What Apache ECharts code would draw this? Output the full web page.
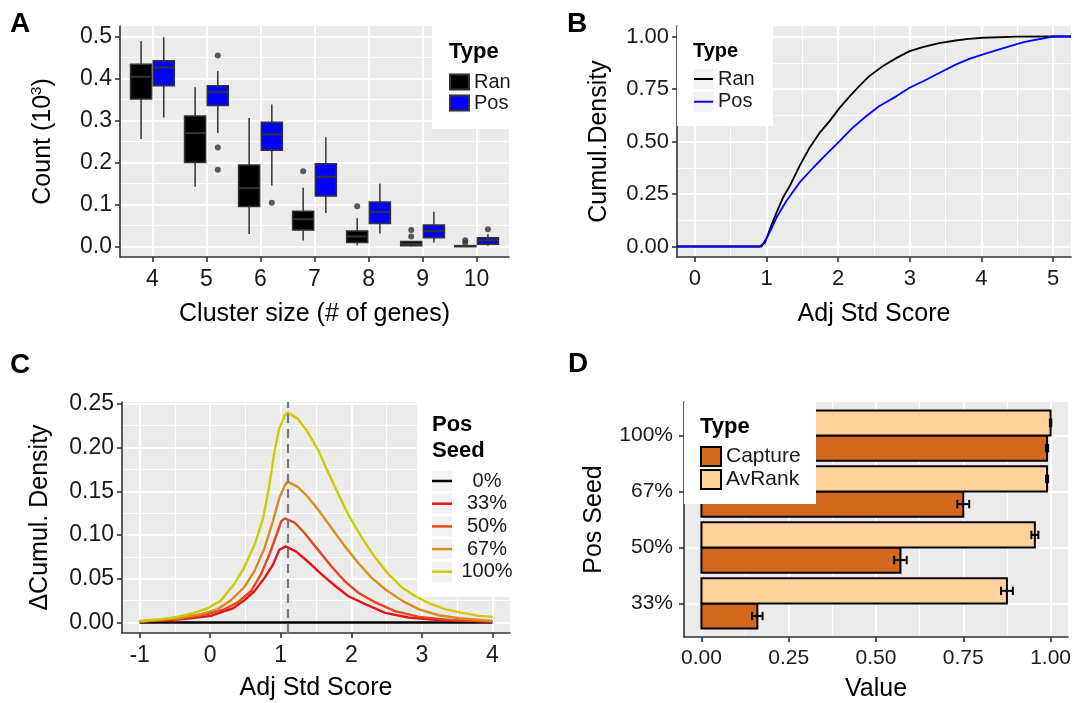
<!DOCTYPE html>
<html>
<head>
<meta charset="utf-8">
<title>Cluster size, cumulative density and capture panels</title>
<script src="https://cdn.jsdelivr.net/npm/echarts@6/dist/echarts.min.js"></script>
<style>
  html, body { margin: 0; padding: 0; background: #fff; }
  #chart { width: 1074px; height: 703px; }
</style>
</head>
<body>
<div id="chart"></div>
<script>
// ---- Panel A: box stats per cluster size [low whisker, Q1, median, Q3, high whisker] (x 10^3)
const clusterSizes = [4, 5, 6, 7, 8, 9, 10]
const ranStats = [
  [0.256, 0.351, 0.404, 0.434, 0.489],
  [0.142, 0.200, 0.270, 0.311, 0.379],
  [0.030, 0.095, 0.139, 0.194, 0.306],
  [0.014, 0.039, 0.065, 0.084, 0.140],
  [0.003, 0.0095, 0.024, 0.037, 0.067],
  [0.000, 0.0015, 0.006, 0.012, 0.013],
  [0.000, 0.000, 0.001, 0.002, 0.003]
]
const posStats = [
  [0.307, 0.383, 0.426, 0.442, 0.498],
  [0.270, 0.336, 0.368, 0.383, 0.418],
  [0.145, 0.229, 0.267, 0.296, 0.338],
  [0.080, 0.120, 0.166, 0.197, 0.260],
  [0.031, 0.055, 0.082, 0.106, 0.150],
  [0.0095, 0.021, 0.037, 0.051, 0.083],
  [0.0015, 0.0055, 0.015, 0.021, 0.029]
]
const ranOutliers = [[7, 0.179], [8, 0.096], [9, 0.039], [9, 0.024], [10, 0.015], [10, 0.009]]
const posOutliers = [[5, 0.455], [5, 0.236], [5, 0.183], [6, 0.104], [10, 0.041]]

// ---- Panel B: cumulative density vs adj std score [score, density]
const ranEcdf = [
  [-0.25, 0], [0.907, 0], [0.98, 0.019], [1.046, 0.082], [1.139, 0.161], [1.23, 0.233],
  [1.324, 0.288], [1.46, 0.383], [1.60, 0.47], [1.74, 0.541], [1.88, 0.597], [2.02, 0.66],
  [2.16, 0.715], [2.29, 0.763], [2.43, 0.81], [2.62, 0.858], [2.81, 0.897], [2.99, 0.929],
  [3.18, 0.949], [3.41, 0.968], [3.64, 0.981], [3.82, 0.989], [4.02, 0.994], [4.5, 0.999],
  [5.0, 1], [5.25, 1]
]
const posEcdf = [
  [-0.25, 0], [0.93, 0], [1.02, 0.051], [1.139, 0.138], [1.277, 0.217], [1.46, 0.304],
  [1.65, 0.375], [1.83, 0.438], [2.02, 0.502], [2.20, 0.565], [2.39, 0.62], [2.57, 0.668],
  [2.81, 0.715], [2.99, 0.755], [3.18, 0.786], [3.41, 0.826], [3.64, 0.866], [3.82, 0.892],
  [4.0, 0.912], [4.26, 0.94], [4.59, 0.973], [5.0, 1], [5.25, 1]
]

// ---- Panel C: delta cumulative density per pos seed [score, delta]
const seedNames = ['0%', '33%', '50%', '67%', '100%']
const seed0 = [[-1, 0], [4, 0]]
const seed33 = [
  [-1, 0.0008], [-0.37, 0.0038], [0.01, 0.0076], [0.20, 0.013], [0.32, 0.016], [0.48, 0.025],
  [0.63, 0.036], [0.77, 0.051], [0.89, 0.066], [0.98, 0.083], [1.07, 0.087], [1.22, 0.081],
  [1.38, 0.070], [1.58, 0.055], [1.77, 0.042], [1.96, 0.030], [2.20, 0.021], [2.48, 0.011],
  [2.81, 0.0057], [3.24, 0.0027], [4, 0.0011]
]
const seed50 = [
  [-1, 0.0011], [-0.37, 0.0049], [-0.04, 0.0095], [0.20, 0.015], [0.39, 0.023], [0.58, 0.036],
  [0.72, 0.055], [0.84, 0.078], [0.94, 0.100], [1.01, 0.116], [1.06, 0.119], [1.20, 0.114],
  [1.34, 0.102], [1.53, 0.083], [1.72, 0.064], [1.91, 0.047], [2.10, 0.034], [2.34, 0.023],
  [2.62, 0.013], [2.96, 0.0064], [3.43, 0.0027], [4, 0.0011]
]
const seed67 = [
  [-1, 0.0011], [-0.47, 0.0049], [-0.13, 0.0095], [0.10, 0.015], [0.29, 0.025], [0.48, 0.040],
  [0.63, 0.059], [0.77, 0.085], [0.89, 0.116], [0.98, 0.142], [1.06, 0.157], [1.10, 0.161],
  [1.24, 0.155], [1.38, 0.144], [1.53, 0.129], [1.72, 0.108], [1.91, 0.087], [2.10, 0.068],
  [2.29, 0.051], [2.48, 0.038], [2.72, 0.025], [2.96, 0.015], [3.24, 0.0083], [3.53, 0.0049],
  [4, 0.0019]
]
const seed100 = [
  [-1, 0.0019], [-0.70, 0.0038], [-0.47, 0.0064], [-0.23, 0.011], [-0.04, 0.016], [0.15, 0.025],
  [0.34, 0.044], [0.48, 0.0625], [0.63, 0.089], [0.75, 0.119], [0.84, 0.157], [0.91, 0.195],
  [0.98, 0.222], [1.06, 0.237], [1.10, 0.240], [1.24, 0.233], [1.38, 0.218], [1.53, 0.197],
  [1.67, 0.172], [1.81, 0.148], [1.96, 0.123], [2.15, 0.097], [2.34, 0.074], [2.53, 0.055],
  [2.72, 0.040], [2.91, 0.030], [3.10, 0.022], [3.34, 0.015], [3.58, 0.011], [3.81, 0.0076],
  [4, 0.0064]
]
const peakScore = 1.1

// ---- Panel D: capture / average rank per pos seed, with error
const seedLevels = ['33%', '50%', '67%', '100%']
const captureVals = [0.16, 0.57, 0.75, 0.99]
const captureErr = [0.015, 0.018, 0.017, 0.003]
const avRankVals = [0.875, 0.955, 0.99, 1.0]
const avRankErr = [0.017, 0.01, 0.003, 0.002]

// ---- layout / style
const font = 'Liberation Sans, Arial, Helvetica, sans-serif'
const textColor = '#1a1a1a'
const lineColor = '#333'
const keyBg = '#F2F2F2'
const gridA = { left: 120, top: 26, width: 389, height: 231 }
const gridB = { left: 677, top: 26, width: 394, height: 231 }
const gridC = { left: 122, top: 402, width: 388, height: 231 }
const gridD = { left: 684, top: 402, width: 386, height: 236 }

const range = (a, b, step) => {
  const out = []
  for (let v = a; v <= b + 1e-9; v += step) out.push(+v.toFixed(4))
  return out
}

function tickLabels(ticks, size, margin, formatter) {
  return { customValues: ticks, fontSize: size, color: textColor, margin, fontFamily: font, formatter }
}

function majorAxis(gridIndex, min, max, ticks, extra) {
  return Object.assign({
    type: 'value', gridIndex, min, max,
    axisLine: { show: true, onZero: false, lineStyle: { color: lineColor, width: 1.6 } },
    axisTick: { show: true, length: 5, customValues: ticks, lineStyle: { color: lineColor, width: 1.6 } },
    splitLine: { show: true, lineStyle: { color: '#fff', width: 2 } },
    nameLocation: 'middle',
    nameTextStyle: { fontSize: 25, color: '#000', fontFamily: font }
  }, extra)
}

function minorAxis(gridIndex, min, max, ticks, position) {
  return {
    type: 'value', gridIndex, min, max, position,
    axisLine: { show: false },
    axisTick: { show: false, customValues: ticks },
    axisLabel: { show: false, customValues: ticks },
    splitLine: { show: true, lineStyle: { color: '#fff', width: 1 } }
  }
}

const dodge = 0.21
const boxW = 0.39
function renderBox(params, api) {
  const x = api.value(0)
  const p = [1, 2, 3, 4, 5].map(i => api.coord([x, api.value(i)]))
  const w = api.size([boxW, 0])[0]
  const stroke = { stroke: lineColor, lineWidth: 1.5 }
  return {
    type: 'group',
    children: [
      { type: 'line', shape: { x1: p[0][0], y1: p[0][1], x2: p[1][0], y2: p[1][1] }, style: stroke },
      { type: 'line', shape: { x1: p[3][0], y1: p[3][1], x2: p[4][0], y2: p[4][1] }, style: stroke },
      { type: 'rect', shape: { x: p[3][0] - w / 2, y: p[3][1], width: w, height: Math.max(p[1][1] - p[3][1], 1) },
        style: { fill: api.visual('color'), stroke: lineColor, lineWidth: 1.5 } },
      { type: 'line', shape: { x1: p[2][0] - w / 2, y1: p[2][1], x2: p[2][0] + w / 2, y2: p[2][1] },
        style: { stroke: lineColor, lineWidth: 2 } }
    ]
  }
}

const barH = 0.45
const capH = 0.075
function barRenderer(offset) {
  return (params, api) => {
    const v = api.value(0)
    const y = api.value(1) + offset
    const e = api.value(2)
    const a = api.coord([0, y + barH / 2])
    const b = api.coord([v, y - barH / 2])
    const lo = api.coord([v - e, y])
    const hi = api.coord([v + e, y])
    const capT = api.coord([v, y + capH])[1]
    const capB = api.coord([v, y - capH])[1]
    const es = { stroke: '#000', lineWidth: 2 }
    return {
      type: 'group',
      children: [
        { type: 'rect', shape: { x: a[0], y: a[1], width: b[0] - a[0], height: b[1] - a[1] },
          style: { fill: api.visual('color'), stroke: '#000', lineWidth: 2 } },
        { type: 'line', shape: { x1: lo[0], y1: lo[1], x2: hi[0], y2: hi[1] }, style: es },
        { type: 'line', shape: { x1: lo[0], y1: capT, x2: lo[0], y2: capB }, style: es },
        { type: 'line', shape: { x1: hi[0], y1: capT, x2: hi[0], y2: capB }, style: es }
      ]
    }
  }
}

const seedColors = ['#000000', '#E3141A', '#E2481C', '#D98C1F', '#CCCC00']
const seedData = [seed0, seed33, seed50, seed67, seed100]

const chart = echarts.init(document.getElementById('chart'))

const legendText = { fontSize: 20, color: textColor, fontFamily: font }

// light grey squares behind the legend keys, ggplot style
function keySquares(left, firstCenter, step, count, size) {
  const out = []
  for (let i = 0; i < count; i++) {
    out.push({ type: 'rect', left, top: firstCenter + i * step - size / 2, z: 3.5,
      shape: { width: size, height: size }, style: { fill: keyBg } })
  }
  return out
}

const option = {
  animation: false,
  textStyle: { fontFamily: font },
  grid: [gridA, gridB, gridC, gridD].map(g => Object.assign({
    show: true, backgroundColor: '#EBEBEB', borderWidth: 0
  }, g)),
  xAxis: [
    majorAxis(0, 3.4, 10.6, clusterSizes, {
      name: 'Cluster size (# of genes)', nameGap: 45,
      axisLabel: tickLabels(clusterSizes, 23, 11)
    }),
    majorAxis(1, -0.25, 5.25, range(0, 5, 1), {
      name: 'Adj Std Score', nameGap: 45,
      axisLabel: tickLabels(range(0, 5, 1), 22, 11)
    }),
    minorAxis(1, -0.25, 5.25, range(0.5, 4.5, 1), 'top'),
    majorAxis(2, -1.25, 4.25, range(-1, 4, 1), {
      name: 'Adj Std Score', nameGap: 43,
      axisLabel: tickLabels(range(-1, 4, 1), 23, 11)
    }),
    minorAxis(2, -1.25, 4.25, range(-0.5, 3.5, 1), 'top'),
    majorAxis(3, -0.05, 1.05, range(0, 1, 0.25), {
      name: 'Value', nameGap: 40,
      axisLabel: tickLabels(range(0, 1, 0.25), 21, 11, v => v.toFixed(2))
    }),
    minorAxis(3, -0.05, 1.05, range(0.125, 0.875, 0.25), 'top')
  ],
  yAxis: [
    majorAxis(0, -0.025, 0.525, range(0, 0.5, 0.1), {
      name: 'Count (10{sup|3})', nameGap: 62,
      nameTextStyle: { fontSize: 25, color: '#000', fontFamily: font,
        rich: { sup: { fontSize: 15, padding: [0, 0, 14, 0], color: '#000', fontFamily: font } } },
      axisLabel: tickLabels(range(0, 0.5, 0.1), 23, 8, v => v.toFixed(1))
    }),
    minorAxis(0, -0.025, 0.525, range(0.05, 0.45, 0.1), 'right'),
    majorAxis(1, -0.05, 1.05, range(0, 1, 0.25), {
      name: 'Cumul.Density', nameGap: 65,
      axisLabel: tickLabels(range(0, 1, 0.25), 22, 8, v => v.toFixed(2))
    }),
    minorAxis(1, -0.05, 1.05, range(0.125, 0.875, 0.25), 'right'),
    majorAxis(2, -0.012, 0.252, range(0, 0.25, 0.05), {
      name: 'ΔCumul. Density', nameGap: 69,
      axisLabel: tickLabels(range(0, 0.25, 0.05), 23, 8, v => v.toFixed(2))
    }),
    minorAxis(2, -0.012, 0.252, range(0.025, 0.225, 0.05), 'right'),
    majorAxis(3, 0.4, 4.6, [1, 2, 3, 4], {
      name: 'Pos Seed', nameGap: 77,
      axisLabel: tickLabels([1, 2, 3, 4], 21, 11, v => seedLevels[Math.round(v) - 1])
    })
  ],
  legend: [
    {
      data: ['Ran', 'Pos'], left: 449, top: 72, orient: 'vertical', padding: 0,
      itemWidth: 19, itemHeight: 15, itemGap: 1, icon: 'rect', textStyle: legendText, selectedMode: false
    },
    {
      data: ['Ran (B)', 'Pos (B)'], left: 694, top: 69, orient: 'vertical', padding: 0,
      itemWidth: 19, itemHeight: 2, itemGap: 2.7, icon: 'rect', textStyle: legendText, selectedMode: false,
      formatter: name => name.replace(' (B)', '')
    },
    {
      data: seedNames, left: 432, top: 471, orient: 'vertical', padding: 0,
      itemWidth: 20, itemHeight: 2.5, itemGap: 2.7, icon: 'rect', selectedMode: false,
      formatter: name => `{v|${name}}`,
      textStyle: Object.assign({ rich: { v: { width: 60, align: 'center', fontSize: 20, color: textColor, fontFamily: font } } }, legendText)
    },
    {
      data: ['Capture', 'AvRank'], left: 700, top: 446, orient: 'vertical', padding: 0,
      itemWidth: 20, itemHeight: 19, itemGap: 2, icon: 'rect', textStyle: Object.assign({}, legendText, { fontSize: 21 }),
      selectedMode: false
    }
  ],
  graphic: {
    elements: [
      { type: 'rect', left: 432, top: gridA.top, z: 3, shape: { width: gridA.left + gridA.width - 432, height: 103 }, style: { fill: '#fff' } },
      { type: 'rect', left: gridB.left, top: gridB.top, z: 3, shape: { width: 96, height: 100 }, style: { fill: '#fff' } },
      { type: 'rect', left: 417, top: gridC.top, z: 3, shape: { width: gridC.left + gridC.width - 417, height: 195 }, style: { fill: '#fff' } },
      { type: 'rect', left: gridD.left, top: gridD.top, z: 3, shape: { width: 132, height: 102 }, style: { fill: '#fff' } },
      ...keySquares(449, 82, 21, 2, 19),
      ...keySquares(693.5, 79, 22.7, 2, 20),
      ...keySquares(432, 481, 22.7, 5, 20),
      { type: 'text', left: 449, top: 41, z: 5, style: { text: 'Type', font: 'bold 22px ' + font, fill: '#000' } },
      { type: 'text', left: 693, top: 41, z: 5, style: { text: 'Type', font: 'bold 20px ' + font, fill: '#000' } },
      { type: 'text', left: 432, top: 412, z: 5, style: { text: 'Pos\nSeed', font: 'bold 22px ' + font, lineHeight: 26, fill: '#000' } },
      { type: 'text', left: 700, top: 416, z: 5, style: { text: 'Type', font: 'bold 22px ' + font, fill: '#000' } },
      { type: 'text', left: 10, top: 10, z: 5, style: { text: 'A', font: 'bold 28px ' + font, fill: '#000' } },
      { type: 'text', left: 567, top: 10, z: 5, style: { text: 'B', font: 'bold 28px ' + font, fill: '#000' } },
      { type: 'text', left: 10, top: 351, z: 5, style: { text: 'C', font: 'bold 28px ' + font, fill: '#000' } },
      { type: 'text', left: 568, top: 350, z: 5, style: { text: 'D', font: 'bold 28px ' + font, fill: '#000' } }
    ]
  },
  series: [
    {
      name: 'Ran', type: 'custom', xAxisIndex: 0, yAxisIndex: 0, renderItem: renderBox,
      itemStyle: { color: '#000', borderColor: lineColor, borderWidth: 1.5 },
      data: clusterSizes.map((s, i) => [s - dodge, ...ranStats[i]])
    },
    {
      name: 'Pos', type: 'custom', xAxisIndex: 0, yAxisIndex: 0, renderItem: renderBox,
      itemStyle: { color: '#0000FF', borderColor: lineColor, borderWidth: 1.5 },
      data: clusterSizes.map((s, i) => [s + dodge, ...posStats[i]])
    },
    {
      type: 'scatter', xAxisIndex: 0, yAxisIndex: 0, symbolSize: 6, itemStyle: { color: lineColor },
      data: ranOutliers.map(d => [d[0] - dodge, d[1]]).concat(posOutliers.map(d => [d[0] + dodge, d[1]]))
    },
    {
      name: 'Ran (B)', type: 'line', xAxisIndex: 1, yAxisIndex: 2, showSymbol: false, symbol: 'none',
      lineStyle: { color: '#000', width: 1.8 }, itemStyle: { color: '#000' }, data: ranEcdf, clip: true
    },
    {
      name: 'Pos (B)', type: 'line', xAxisIndex: 1, yAxisIndex: 2, showSymbol: false, symbol: 'none',
      lineStyle: { color: '#0000FF', width: 1.8 }, itemStyle: { color: '#0000FF' }, data: posEcdf, clip: true
    },
    ...seedNames.map((name, i) => ({
      name, type: 'line', xAxisIndex: 3, yAxisIndex: 4, showSymbol: false, symbol: 'none',
      lineStyle: { color: seedColors[i], width: 2.4 }, itemStyle: { color: seedColors[i] },
      data: seedData[i]
    })),
    {
      type: 'line', xAxisIndex: 3, yAxisIndex: 4, data: [], silent: true,
      markLine: {
        silent: true, symbol: 'none', label: { show: false },
        lineStyle: { color: '#7a7a7a', type: [9, 6], width: 2.2 },
        data: [{ xAxis: peakScore }]
      }
    },
    {
      name: 'Capture', type: 'custom', xAxisIndex: 5, yAxisIndex: 6, renderItem: barRenderer(-barH / 2),
      itemStyle: { color: '#D2691E', borderColor: '#000', borderWidth: 2 },
      data: captureVals.map((v, i) => [v, i + 1, captureErr[i]])
    },
    {
      name: 'AvRank', type: 'custom', xAxisIndex: 5, yAxisIndex: 6, renderItem: barRenderer(barH / 2),
      itemStyle: { color: '#FFD39B', borderColor: '#000', borderWidth: 2 },
      data: avRankVals.map((v, i) => [v, i + 1, avRankErr[i]])
    }
  ]
}

chart.setOption(option)
</script>
</body>
</html>
